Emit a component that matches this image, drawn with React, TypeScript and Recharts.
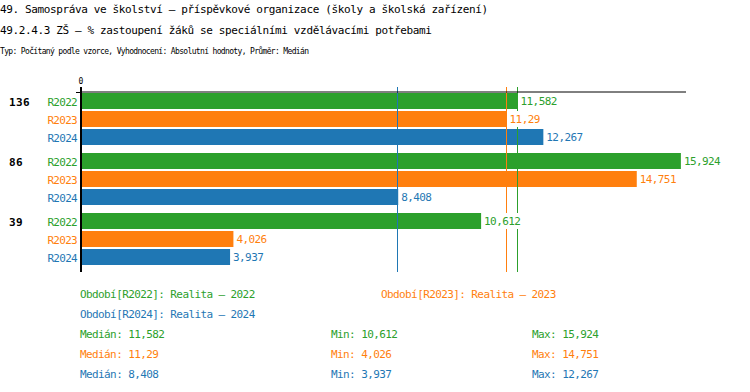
import React from 'react';
import { BarChart, Bar, XAxis, YAxis, ReferenceLine, LabelList } from 'recharts';

const FONT = '"DejaVu Sans Mono", monospace';
const GREEN = '#2ca02c';
const ORANGE = '#ff7f0e';
const BLUE = '#1f77b4';

const groups = ['136', '86', '39'];
const seriesNames = ['R2022', 'R2023', 'R2024'];
const r2022 = [11.582, 15.924, 10.612];
const r2023 = [11.29, 14.751, 4.026];
const r2024 = [12.267, 8.408, 3.937];
const periodLabels = ['Období[R2022]: Realita – 2022', 'Období[R2023]: Realita – 2023', 'Období[R2024]: Realita – 2024'];
const colors = [GREEN, ORANGE, BLUE];

const rows = groups.map((g, i) => ({ name: g, R2022: r2022[i], R2023: r2023[i], R2024: r2024[i] }));
const allSeries = [r2022, r2023, r2024];

const fmt = (v: number) => String(v).replace('.', ',');
const median = (arr: number[]) => {
  const s = [...arr].sort((a, b) => a - b);
  return s[Math.floor(s.length / 2)];
};

// plot area runs 92..272, median lines start a bit above the top axis
const medianShape = (color: string) => (p: any) => {
  const bottom = Math.max(p.y1, p.y2);
  const x = Math.round(p.x1) - 0.5;
  return <line x1={x} x2={x} y1={87} y2={bottom} stroke={color} strokeWidth={1} />;
};

const axisShape = (p: any) => {
  const bottom = Math.max(p.y1, p.y2);
  const top = Math.min(p.y1, p.y2);
  const x = Math.round(p.x1) - 1;
  return (
    <g>
      <line x1={x} x2={x} y1={87} y2={bottom} stroke="#000" strokeWidth={2} />
      <line x1={x - 5} x2={x + 1} y1={top + 0.5} y2={top + 0.5} stroke="#000" strokeWidth={1} />
    </g>
  );
};

function GroupTick(props: any) {
  const { y, payload } = props;
  return (
    <g>
      <text x={9} y={y - 18 + 4.5} fontFamily={FONT} fontSize={11} fontWeight="bold" fill="#000" letterSpacing={0.4}>
        {payload.value}
      </text>
      {seriesNames.map((s, i) => (
        <text key={s} x={77} y={y + (i - 1) * 18 + 4.5} textAnchor="end" fontFamily={FONT} fontSize={11} fill={colors[i]} letterSpacing={-0.7}>
          {s}
        </text>
      ))}
    </g>
  );
}

function ZeroTick(props: any) {
  const { x, payload } = props;
  return (
    <text x={x - 1} y={84} textAnchor="middle" fontFamily={FONT} fontSize={8} fill="#000">
      {payload.value}
    </text>
  );
}

const valueLabel = (color: string) => (p: any) => {
  const text = fmt(p.value);
  const x = p.x + p.width;
  const w = text.length * 6 + 5;
  return (
    <g>
      <rect x={x + 1} y={p.y} width={w} height={p.height} fill="#fff" />
      <text x={x + 3} y={p.y + p.height / 2 + 4} fontFamily={FONT} fontSize={11} fill={color} letterSpacing={-0.6}>
        {text}
      </text>
    </g>
  );
};

export default function App() {
  return (
    <div style={{ position: 'absolute', left: 0, top: 0, width: 750, height: 392, background: '#fff' }}>
      <svg width={750} height={392} style={{ position: 'absolute', left: 0, top: 0 }}>
        <text x={0} y={13} fontFamily={FONT} fontSize={11} letterSpacing={-0.37} fill="#000">
          49. Samospráva ve školství – příspěvkové organizace (školy a školská zařízení)
        </text>
        <text x={0} y={34} fontFamily={FONT} fontSize={11} letterSpacing={-0.37} fill="#000">
          49.2.4.3 ZŠ – % zastoupení žáků se speciálními vzdělávacími potřebami
        </text>
        <text x={0} y={54} fontFamily={FONT} fontSize={8} letterSpacing={-0.65} fill="#000">
          Typ: Počítaný podle vzorce, Vyhodnocení: Absolutní hodnoty, Průměr: Medián
        </text>
        <text x={80} y={298} fontFamily={FONT} fontSize={11} letterSpacing={-0.6} fill={GREEN}>{periodLabels[0]}</text>
        <text x={381} y={298} fontFamily={FONT} fontSize={11} letterSpacing={-0.6} fill={ORANGE}>{periodLabels[1]}</text>
        <text x={80} y={318} fontFamily={FONT} fontSize={11} letterSpacing={-0.6} fill={BLUE}>{periodLabels[2]}</text>
        {allSeries.map((arr, i) => (
          <g key={i} fontFamily={FONT} fontSize={11} letterSpacing={-0.6} fill={colors[i]}>
            <text x={80} y={338 + i * 20}>Medián: {fmt(median(arr))}</text>
            <text x={331} y={338 + i * 20}>Min: {fmt(Math.min(...arr))}</text>
            <text x={532} y={338 + i * 20}>Max: {fmt(Math.max(...arr))}</text>
          </g>
        ))}
      </svg>
      <div style={{ position: 'absolute', left: 0, top: 0 }}>
        <BarChart
          width={750}
          height={280}
          layout="vertical"
          data={rows}
          margin={{ top: 80, right: 64, bottom: 8, left: 0 }}
          barSize={16}
          barGap={2}
        >
          <XAxis
            type="number"
            orientation="top"
            domain={[0, 16.06]}
            ticks={[0]}
            height={12}
            tickLine={false}
            axisLine={{ stroke: '#000' }}
            tick={<ZeroTick />}
            allowDataOverflow
          />
          <YAxis
            type="category"
            dataKey="name"
            width={82}
            axisLine={false}
            tickLine={false}
            tick={<GroupTick />}
            padding={{ top: -3, bottom: 3 }}
          />
          <ReferenceLine x={median(r2024)} stroke={BLUE} shape={medianShape(BLUE)} />
          <ReferenceLine x={median(r2023)} stroke={ORANGE} shape={medianShape(ORANGE)} />
          <ReferenceLine x={median(r2022)} stroke={GREEN} shape={medianShape(GREEN)} />
          <ReferenceLine x={0} stroke="#000" ifOverflow="visible" shape={axisShape} />
          <Bar dataKey="R2022" fill={GREEN} isAnimationActive={false}>
            <LabelList dataKey="R2022" content={valueLabel(GREEN)} />
          </Bar>
          <Bar dataKey="R2023" fill={ORANGE} isAnimationActive={false}>
            <LabelList dataKey="R2023" content={valueLabel(ORANGE)} />
          </Bar>
          <Bar dataKey="R2024" fill={BLUE} isAnimationActive={false}>
            <LabelList dataKey="R2024" content={valueLabel(BLUE)} />
          </Bar>
        </BarChart>
      </div>
    </div>
  );
}
